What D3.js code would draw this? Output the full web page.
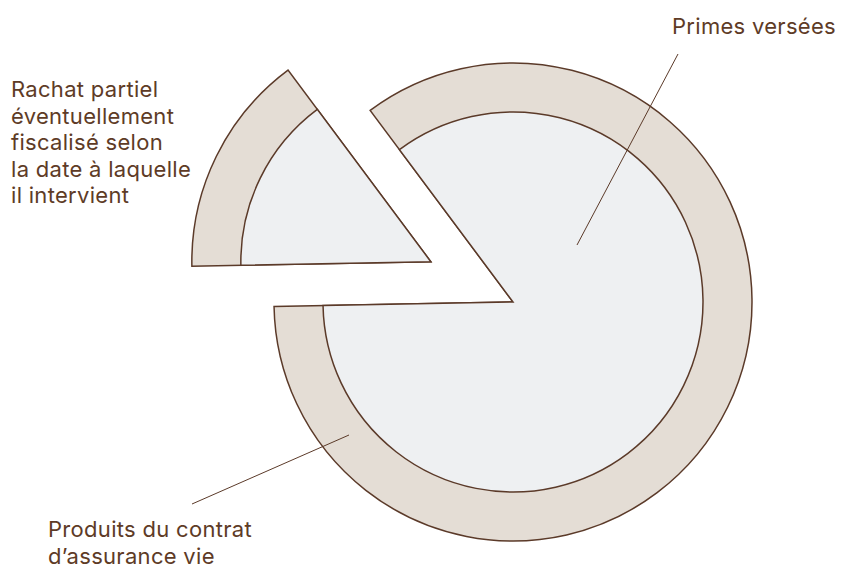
<!DOCTYPE html>
<html>
<head>
<meta charset="utf-8">
<script src="https://cdn.jsdelivr.net/npm/d3@7"></script>
<style>
  html, body { margin: 0; padding: 0; background: #ffffff; }
  svg { display: block; }
  .label { font-family: Inter, "Open Sans", sans-serif; font-size: 22px; letter-spacing: 0.3px; fill: #5e3b26; }
</style>
</head>
<body>
<div id="chart"></div>
<script>
// Pie slices (share of the contract, %)
const sliceNames = ["Capital conservé", "Rachat partiel"];
const sliceShares = [84.9, 15.1];

// Rings (share of the value, %): inner disc, outer band
const ringNames = ["Primes versées", "Produits du contrat d'assurance vie"];
const ringShares = [63.2, 36.8];

const width = 842;
const height = 565;

// Chart props
const center = { x: 513, y: 302 };
const outerRadius = 239;
const explodeOffset = 91.5;
const startDeg = -36.7;

const colors = {
    ring: "#e4ddd5",
    core: "#eef0f2",
    stroke: "#5b3a29"
};

const svg = d3.select("#chart").append("svg")
    .attr("width", width)
    .attr("height", height);

// Radius scale: area proportional to value
const rScale = d3.scaleSqrt()
    .domain([0, d3.sum(ringShares)])
    .range([0, outerRadius]);

const innerR = rScale(ringShares[0]);
const outerR = rScale(ringShares[0] + ringShares[1]);

const pie = d3.pie()
    .sort(null)
    .startAngle(startDeg * Math.PI / 180)
    .endAngle(startDeg * Math.PI / 180 + 2 * Math.PI);

const slices = pie(sliceShares);

const bandArc = d3.arc().innerRadius(0).outerRadius(outerR);
const coreArc = d3.arc().innerRadius(0).outerRadius(innerR);

const g = svg.append("g")
    .attr("transform", `translate(${center.x},${center.y})`);

slices.forEach((s, i) => {
    // Pull the second slice out along its bisector
    let dx = 0, dy = 0;
    if (i === 1) {
        const mid = (s.startAngle + s.endAngle) / 2;
        dx = Math.sin(mid) * explodeOffset;
        dy = -Math.cos(mid) * explodeOffset;
    }
    const sg = g.append("g")
        .attr("class", "slice slice-" + i)
        .attr("transform", `translate(${dx},${dy})`);

    sg.append("path")
        .attr("d", bandArc(s))
        .attr("fill", colors.ring)
        .attr("stroke", colors.stroke)
        .attr("stroke-width", 1.5)
        .attr("stroke-linejoin", "miter");

    sg.append("path")
        .attr("d", coreArc(s))
        .attr("fill", colors.core)
        .attr("stroke", colors.stroke)
        .attr("stroke-width", 1.5)
        .attr("stroke-linejoin", "miter");
});

// Leader lines
const leaders = [
    { x1: 678, y1: 54, x2: 577, y2: 245 },
    { x1: 192, y1: 504, x2: 349, y2: 435 }
];
svg.selectAll("line.leader")
    .data(leaders)
    .join("line")
    .attr("class", "leader")
    .attr("x1", d => d.x1).attr("y1", d => d.y1)
    .attr("x2", d => d.x2).attr("y2", d => d.y2)
    .attr("stroke", colors.stroke)
    .attr("stroke-width", 1);

// Labels
const labels = [
    { x: 672, y: 34, lines: [ringNames[0]] },
    { x: 11, y: 97, lines: ["Rachat partiel", "éventuellement", "fiscalisé selon", "la date à laquelle", "il intervient"] },
    { x: 48, y: 537, lines: ["Produits du contrat", "d’assurance vie"] }
];

labels.forEach(l => {
    const t = svg.append("text")
        .attr("class", "label")
        .attr("x", l.x)
        .attr("y", l.y);
    l.lines.forEach((line, i) => {
        t.append("tspan")
            .attr("x", l.x)
            .attr("dy", i === 0 ? 0 : 26.6)
            .text(line);
    });
});
</script>
</body>
</html>
